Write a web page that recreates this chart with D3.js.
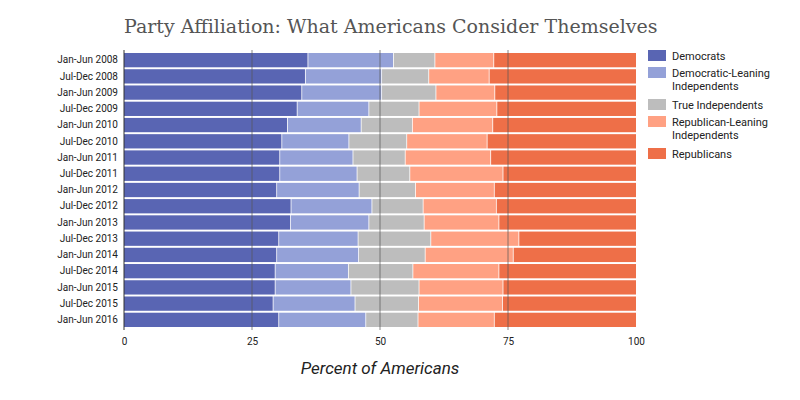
<!DOCTYPE html>
<html><head><meta charset="utf-8">
<script src="https://cdn.jsdelivr.net/npm/d3@7"></script>
<style>body{margin:0;background:#fff}</style>
</head><body><svg width="800" height="400"></svg>
<script>
const periods = ["Jan-Jun 2008","Jul-Dec 2008","Jan-Jun 2009","Jul-Dec 2009","Jan-Jun 2010","Jul-Dec 2010","Jan-Jun 2011","Jul-Dec 2011","Jan-Jun 2012","Jul-Dec 2012","Jan-Jun 2013","Jul-Dec 2013","Jan-Jun 2014","Jul-Dec 2014","Jan-Jun 2015","Jul-Dec 2015","Jan-Jun 2016"];
const series = ["Democrats","Democratic-Leaning Independents","True Independents","Republican-Leaning Independents","Republicans"];
const colors = ["#5965b3","#94a1d8","#bdbdbd","#ffa183","#ee6f48"];
// cumulative boundaries (percent)
const democrats   = [36.0,35.5,34.8,33.9,32.0,30.9,30.5,30.5,29.9,32.7,32.6,30.3,29.9,29.6,29.6,29.2,30.3];
const demLeaning  = [52.7,50.4,50.4,47.9,46.4,44.0,44.8,45.6,46.0,48.5,47.9,45.8,45.9,43.9,44.4,45.2,47.3];
const trueInd     = [60.8,59.6,61.0,57.7,56.4,55.3,55.0,55.9,57.0,58.5,58.7,60.0,58.9,56.5,57.7,57.6,57.5];
const repLeaning  = [72.3,71.4,72.5,72.9,72.1,71.0,71.7,74.1,72.4,72.8,73.3,77.2,76.1,73.3,74.1,74.0,72.4];
const bounds = [democrats, demLeaning, trueInd, repLeaning];

const svg = d3.select("svg");
const x = d3.scaleLinear().domain([0,100]).range([124,636]);
const y = d3.scaleBand().domain(periods).range([53,327]).paddingInner(0.12);

periods.forEach((p,i) => {
  const edges = [0, ...bounds.map(b => b[i]), 100];
  series.forEach((s,j) => {
    svg.append("rect")
      .attr("x", x(edges[j])).attr("y", y(p))
      .attr("width", x(edges[j+1]) - x(edges[j]) - (j<4?0.8:0))
      .attr("height", y.bandwidth())
      .attr("fill", colors[j]);
  });
});

// grid lines over bars
[0,25,50,75].forEach(v => {
  svg.append("line").attr("x1", x(v)).attr("x2", x(v)).attr("y1", 50).attr("y2", 330)
    .attr("stroke", v==0 ? "#333" : "#555").attr("stroke-opacity", v==0?1:0.7).attr("stroke-width", 1);
});

const ax = svg.append("g").attr("transform","translate(0,330)")
  .call(d3.axisBottom(x).tickValues([0,25,50,75,100]).tickSize(0).tickPadding(8));
ax.select(".domain").remove();
ax.selectAll("text").attr("font-family","Roboto, sans-serif").attr("font-size",10).attr("fill","#222");

const ay = svg.append("g").attr("transform","translate(118,0)")
  .call(d3.axisLeft(y).tickSize(0).tickPadding(0));
ay.select(".domain").remove();
ay.selectAll("text").attr("font-family","Roboto, sans-serif").attr("font-size",10).attr("fill","#222");

svg.append("text").attr("x",124).attr("y",33)
  .attr("font-family","'DejaVu Serif', serif").attr("font-size",19).attr("fill","#555")
  .text("Party Affiliation: What Americans Consider Themselves");

svg.append("text").attr("x",x(50)).attr("y",374).attr("text-anchor","middle")
  .attr("font-family","Roboto, sans-serif").attr("font-style","italic").attr("font-size",17).attr("fill","#222")
  .text("Percent of Americans");

// legend
const legY = [56, 73, 105, 122, 154];
const legLines = [["Democrats"],["Democratic-Leaning","Independents"],["True Independents"],["Republican-Leaning","Independents"],["Republicans"]];
series.forEach((s,j) => {
  svg.append("rect").attr("x",648).attr("y",legY[j]-6).attr("width",18).attr("height",11).attr("fill",colors[j]);
  legLines[j].forEach((t,k) => {
    svg.append("text").attr("x",672).attr("y",legY[j]+4+k*13)
      .attr("font-family","Roboto, sans-serif").attr("font-size",11).attr("fill","#222").text(t);
  });
});
</script></body></html>
